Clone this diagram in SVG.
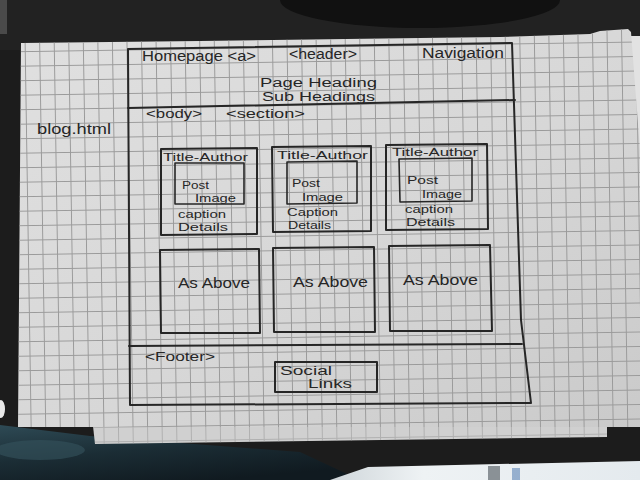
<svg xmlns="http://www.w3.org/2000/svg" width="640" height="480" viewBox="0 0 640 480">
  <defs>
    <linearGradient id="paperShade" x1="0" y1="0" x2="1" y2="1">
      <stop offset="0" stop-color="#e0e0e0"/>
      <stop offset="0.55" stop-color="#d7d7d7"/>
      <stop offset="1" stop-color="#cacaca"/>
    </linearGradient>
    <linearGradient id="fabric" x1="0" y1="0" x2="0.6" y2="1">
      <stop offset="0" stop-color="#2e4a55"/>
      <stop offset="0.5" stop-color="#1b2d35"/>
      <stop offset="1" stop-color="#101a20"/>
    </linearGradient>
    <linearGradient id="windowLight" x1="0" y1="0" x2="1" y2="0">
      <stop offset="0" stop-color="#cfd6da"/>
      <stop offset="0.3" stop-color="#eef2f4"/>
      <stop offset="1" stop-color="#e4eaee"/>
    </linearGradient>
    <!-- squared paper, slightly rotated with the sheet -->
    <pattern id="grid" patternUnits="userSpaceOnUse" width="14.55" height="14.5" patternTransform="rotate(-0.9 128 108) translate(120.725 100.75)">
      <path d="M7.275 0V14.5M0 7.25H14.55" stroke="#9a9a9a" stroke-width="1" fill="none"/>
    </pattern>
    <style>
      .ink { fill: none; stroke: #262626; stroke-width: 2; stroke-linejoin: round; stroke-linecap: round; }
      .thin { stroke-width: 1.6; }
      text { font-family: "Liberation Sans", "DejaVu Sans", sans-serif; fill: #262626; }
      .big { font-size: 14px; }
      .mid { font-size: 12.5px; }
      .small { font-size: 11px; }
    </style>
  </defs>

  <!-- surroundings -->
  <rect x="0" y="0" width="640" height="480" fill="#1c1c1c"/>
  <rect x="0" y="0" width="640" height="50" fill="#222222"/>
  <ellipse cx="420" cy="0" rx="140" ry="28" fill="#111111"/>
  <rect x="0" y="0" width="7" height="34" fill="#4a4a4a"/>
  <polygon points="0,425 90,436 300,452 360,480 0,480" fill="url(#fabric)"/>
  <ellipse cx="40" cy="450" rx="45" ry="10" fill="#35535e" opacity="0.6"/>
  <polygon points="330,480 368,467 640,461 640,480" fill="url(#windowLight)"/>
  <rect x="488" y="466" width="12" height="14" fill="#4a5258" opacity="0.6"/>
  <rect x="512" y="468" width="8" height="12" fill="#5d86b8" opacity="0.6"/>
  <ellipse cx="1" cy="409" rx="4" ry="9" fill="#e8e8e8"/>

  <!-- sheet underneath -->
  <polygon points="93,426 607,426 607,437 95,444" fill="#d0d0d0"/>
  <polygon points="93,426 607,426 607,437 95,444" fill="url(#grid)" opacity="0.6"/>
  <!-- loose sheet at right edge -->
  <polygon points="628,36 640,36 640,200 634,200" fill="#e2e2e2"/>

  <!-- main sheet -->
  <polygon id="sheet" points="21,43 200,41 420,38 500,37 590,34 600,31 628,29 631,32 640,150 640,427 18,427" fill="url(#paperShade)"/>
  <polygon points="21,43 200,41 420,38 500,37 590,34 600,31 628,29 631,32 640,150 640,427 18,427" fill="url(#grid)"/>

  <!-- page label -->
  <g id="page-name">
    <text class="big" x="37" y="134" textLength="74" lengthAdjust="spacingAndGlyphs">blog.html</text>
  </g>

  <!-- page frame -->
  <g id="page">
    <path class="ink" d="M128,49 L512,43 L521,320 L531,403 L130,405 Z"/>
  </g>

  <g id="header">
    <path class="ink" d="M128,108 L515,100"/>
    <text class="big" x="142" y="61" textLength="114" lengthAdjust="spacingAndGlyphs">Homepage &lt;a&gt;</text>
    <text class="big" x="289" y="59" textLength="68" lengthAdjust="spacingAndGlyphs">&lt;header&gt;</text>
    <text class="big" x="422" y="58" textLength="82" lengthAdjust="spacingAndGlyphs">Navigation</text>
    <text class="mid" x="260" y="87" textLength="117" lengthAdjust="spacingAndGlyphs">Page Heading</text>
    <text class="mid" x="262" y="101" textLength="113" lengthAdjust="spacingAndGlyphs">Sub Headings</text>
  </g>

  <g id="body">
    <text class="mid" x="146" y="118" textLength="56" lengthAdjust="spacingAndGlyphs">&lt;body&gt;</text>
    <text class="mid" x="226" y="118" textLength="79" lengthAdjust="spacingAndGlyphs">&lt;section&gt;</text>
  </g>

  <!-- post cards, first row -->
  <g id="post-1">
    <path class="ink" d="M161,149 L257,148 L257,234 L161,235 Z"/>
    <path class="ink thin" d="M175,163 L244,163 L244,204 L175,204 Z"/>
    <text class="small" x="163" y="161" textLength="85" lengthAdjust="spacingAndGlyphs">Title-Author</text>
    <text class="small" x="182" y="189" textLength="27" lengthAdjust="spacingAndGlyphs">Post</text>
    <text class="small" x="195" y="202" textLength="41" lengthAdjust="spacingAndGlyphs">Image</text>
    <text class="small" x="178" y="218" textLength="48" lengthAdjust="spacingAndGlyphs">caption</text>
    <text class="small" x="178" y="231" textLength="50" lengthAdjust="spacingAndGlyphs">Details</text>
  </g>

  <g id="post-2">
    <path class="ink" d="M272,147 L371,146 L371,231 L273,232 Z"/>
    <path class="ink thin" d="M287,162 L357,161 L357,203 L287,204 Z"/>
    <text class="small" x="277" y="159" textLength="91" lengthAdjust="spacingAndGlyphs">Title-Author</text>
    <text class="small" x="292" y="187" textLength="28" lengthAdjust="spacingAndGlyphs">Post</text>
    <text class="small" x="302" y="201" textLength="41" lengthAdjust="spacingAndGlyphs">Image</text>
    <text class="small" x="287" y="216" textLength="51" lengthAdjust="spacingAndGlyphs">Caption</text>
    <text class="small" x="288" y="229" textLength="43" lengthAdjust="spacingAndGlyphs">Details</text>
  </g>

  <g id="post-3">
    <path class="ink" d="M386,145 L487,144 L488,229 L386,230 Z"/>
    <path class="ink thin" d="M399,159 L472,158 L472,201 L400,202 Z"/>
    <text class="small" x="392" y="156" textLength="86" lengthAdjust="spacingAndGlyphs">Title-Author</text>
    <text class="small" x="407" y="184" textLength="31" lengthAdjust="spacingAndGlyphs">Post</text>
    <text class="small" x="422" y="198" textLength="40" lengthAdjust="spacingAndGlyphs">Image</text>
    <text class="small" x="405" y="213" textLength="48" lengthAdjust="spacingAndGlyphs">caption</text>
    <text class="small" x="406" y="226" textLength="49" lengthAdjust="spacingAndGlyphs">Details</text>
  </g>

  <!-- post cards, second row -->
  <g id="post-4">
    <path class="ink" d="M160,250 L259,249 L260,333 L161,333 Z"/>
    <text class="big" x="178" y="288" textLength="72" lengthAdjust="spacingAndGlyphs">As Above</text>
  </g>

  <g id="post-5">
    <path class="ink" d="M273,248 L374,247 L375,332 L274,332 Z"/>
    <text class="big" x="293" y="287" textLength="75" lengthAdjust="spacingAndGlyphs">As Above</text>
  </g>

  <g id="post-6">
    <path class="ink" d="M389,246 L490,245 L492,331 L390,331 Z"/>
    <text class="big" x="403" y="285" textLength="75" lengthAdjust="spacingAndGlyphs">As Above</text>
  </g>

  <g id="footer">
    <path class="ink" d="M129,346 L522,344"/>
    <text class="mid" x="145" y="361" textLength="70" lengthAdjust="spacingAndGlyphs">&lt;Footer&gt;</text>
  </g>

  <g id="social-links">
    <path class="ink" d="M275,362 L377,362 L377,392 L275,392 Z"/>
    <text class="mid" x="280" y="375" textLength="52" lengthAdjust="spacingAndGlyphs">Social</text>
    <text class="mid" x="308" y="388" textLength="44" lengthAdjust="spacingAndGlyphs">Links</text>
  </g>

  <g id="connectors"/>
</svg>
